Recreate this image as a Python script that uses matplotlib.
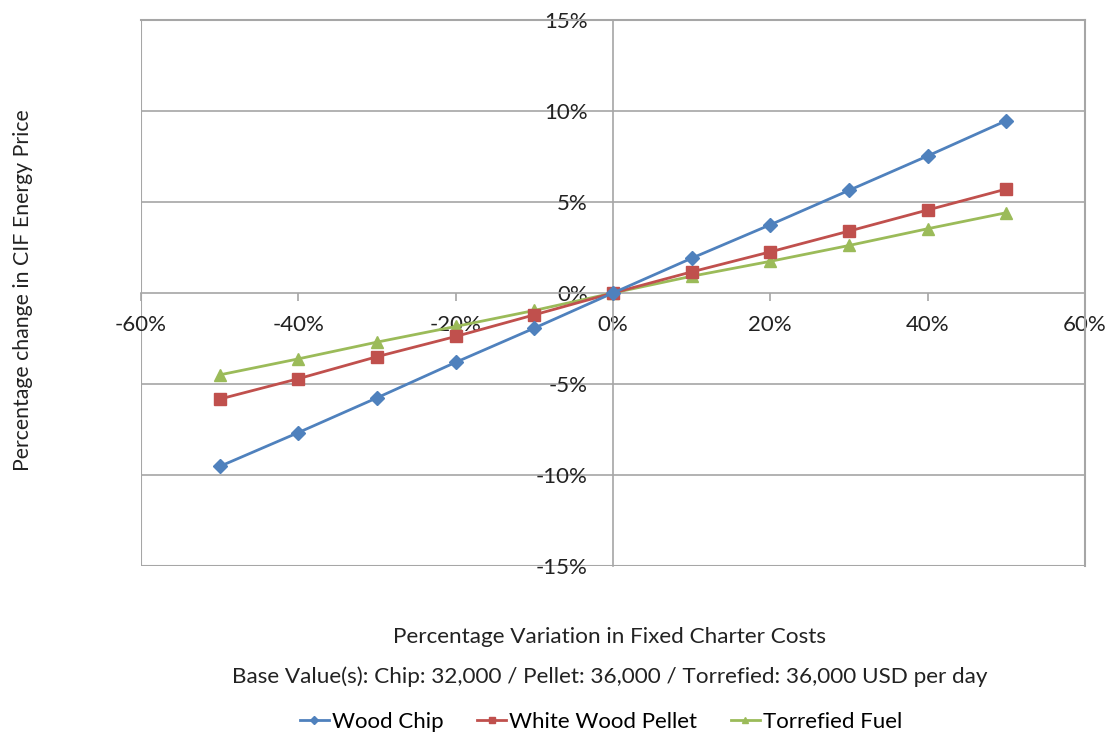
import numpy as np
import matplotlib
matplotlib.use('Agg')
import matplotlib.pyplot as plt
from matplotlib.ticker import FuncFormatter

plt.rcParams['font.family'] = ['Lato', 'DejaVu Sans']

# data (percent)
variation = [-50, -40, -30, -20, -10, 0, 10, 20, 30, 40, 50]
wood_chip = [-9.53, -7.67, -5.76, -3.81, -1.93, 0, 1.91, 3.75, 5.64, 7.53, 9.47]
pellet = [-5.83, -4.71, -3.50, -2.39, -1.20, 0, 1.16, 2.26, 3.40, 4.56, 5.71]
torrefied = [-4.50, -3.62, -2.70, -1.84, -0.96, 0, 0.92, 1.74, 2.61, 3.53, 4.41]

x_ticks = [-60, -40, -20, 0, 20, 40, 60]
y_ticks = [-15, -10, -5, 0, 5, 10, 15]

fig = plt.figure(figsize=(11.13, 7.38), dpi=100)
ax = fig.add_axes([0.1267, 0.2331, 0.8481, 0.7398])

grid_c = '#A6A6A6'
ax.set_xlim(-60, 60)
ax.set_ylim(-15, 15)

for y in [-10, -5, 5, 10]:
    ax.axhline(y, color=grid_c, lw=1.2, zorder=1)
ax.axvline(-60, color=grid_c, lw=1.5, zorder=1)
ax.axhline(-15, color=grid_c, lw=1.5, zorder=1)

for s in ['top', 'right']:
    ax.spines[s].set_color(grid_c)
    ax.spines[s].set_linewidth(1.5)
ax.spines['left'].set_position(('data', 0))
ax.spines['bottom'].set_position(('data', 0))
ax.spines['left'].set_color(grid_c)
ax.spines['bottom'].set_color(grid_c)
ax.spines['left'].set_linewidth(1.2)
ax.spines['bottom'].set_linewidth(1.2)

ax.set_xticks(x_ticks)
ax.set_yticks(y_ticks)
pct = FuncFormatter(lambda v, p: '%d%%' % v)
ax.xaxis.set_major_formatter(pct)
ax.yaxis.set_major_formatter(pct)
ax.tick_params(axis='x', length=6, width=1.2, pad=10, labelsize=16, colors='#222222')
ax.tick_params(axis='x', color=grid_c)
ax.tick_params(axis='y', length=0, pad=18, labelsize=16, colors='#222222')

ax.plot(variation, wood_chip, color='#4F81BD', lw=2, marker='D', ms=7, label='Wood Chip', zorder=5)
ax.plot(variation, pellet, color='#C0504D', lw=2, marker='s', ms=8, label='White Wood Pellet', zorder=4)
ax.plot(variation, torrefied, color='#9BBB59', lw=2, marker='^', ms=8, label='Torrefied Fuel', zorder=3)

fig.text(0.021, 1 - 290 / 738, 'Percentage change in CIF Energy Price', rotation=90,
         ha='center', va='center', fontsize=15.3, color='#222222')
fig.text(0.548, 1 - 637 / 738, 'Percentage Variation in Fixed Charter Costs',
         ha='center', va='center', fontsize=16.2, color='#222222')
fig.text(0.548, 1 - 677 / 738,
         'Base Value(s): Chip: 32,000 / Pellet: 36,000 / Torrefied: 36,000 USD per day',
         ha='center', va='center', fontsize=16.2, color='#222222')

fig.legend(loc='center', bbox_to_anchor=(0.540, 1 - 722 / 738), ncol=3, frameon=False,
           fontsize=16, handlelength=1.3, handletextpad=0.15, columnspacing=1.5, markerscale=0.6)

fig.savefig('out.png', dpi=100)
